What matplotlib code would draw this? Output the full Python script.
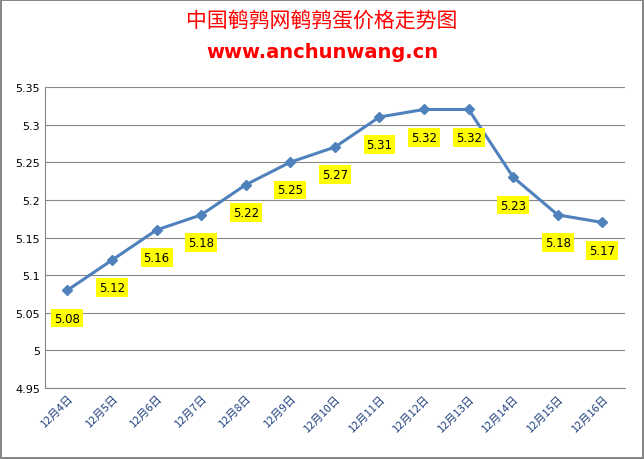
import matplotlib.pyplot as plt

plt.rcParams['font.family'] = ['Noto Sans CJK SC', 'DejaVu Sans']

dates = ["12月4日", "12月5日", "12月6日", "12月7日", "12月8日", "12月9日", "12月10日",
         "12月11日", "12月12日", "12月13日", "12月14日", "12月15日", "12月16日"]
prices = [5.08, 5.12, 5.16, 5.18, 5.22, 5.25, 5.27, 5.31, 5.32, 5.32, 5.23, 5.18, 5.17]
yticks = [4.95, 5, 5.05, 5.1, 5.15, 5.2, 5.25, 5.3, 5.35]

fig = plt.figure(figsize=(6.44, 4.6), dpi=100)
fig.patch.set_edgecolor('#888888')
fig.patch.set_linewidth(1.5)
ax = fig.add_axes([0.07, 0.154, 0.9, 0.655])

x = range(len(dates))
ax.plot(x, prices, color='#4F81BD', lw=2.2, marker='D', ms=5)
for i, p in zip(x, prices):
    ax.annotate(f"{p:.2f}", (i, p), xytext=(0, -20), textcoords='offset points',
                ha='center', va='center', fontsize=8.5, family='DejaVu Sans',
                bbox=dict(boxstyle='square,pad=0.25', fc='yellow', ec='none'))

ax.set_xlim(-0.5, len(dates) - 0.5)
ax.set_ylim(4.95, 5.35)
ax.set_yticks(yticks)
ax.set_yticklabels([f"{v:g}" for v in yticks], fontsize=8, family='DejaVu Sans')
ax.set_xticks(list(x))
ax.set_xticklabels(dates, rotation=45, ha='right', rotation_mode='anchor',
                   fontsize=8, color='#1F3F7F')
ax.tick_params(length=0)
ax.yaxis.grid(True, color='#888888', lw=0.8)
ax.set_axisbelow(True)
for s in ['top', 'right']:
    ax.spines[s].set_visible(False)
ax.spines['left'].set_color('#888888')
ax.spines['bottom'].set_color('#888888')

fig.text(0.5, 0.955, "中国鹌鹑网鹌鹑蛋价格走势图", ha='center', va='center',
         fontsize=15, color='red')
fig.text(0.5, 0.885, "www.anchunwang.cn", ha='center', va='center',
         fontsize=14, color='red', weight='bold', family='DejaVu Sans')

fig.savefig('out.png', dpi=100, edgecolor=fig.get_edgecolor())
